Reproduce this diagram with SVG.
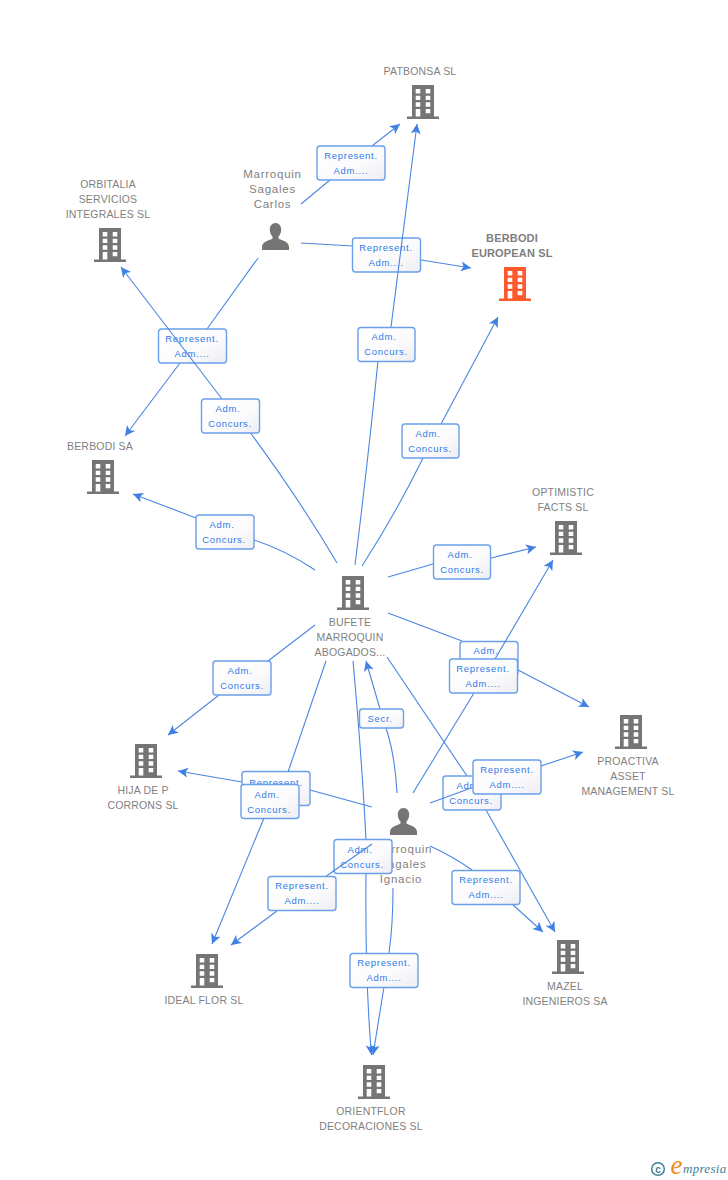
<svg xmlns="http://www.w3.org/2000/svg" xmlns:xlink="http://www.w3.org/1999/xlink" width="728" height="1180" viewBox="0 0 728 1180">
<style>
.t{font-family:"Liberation Sans",Arial,sans-serif;font-size:10.5px;fill:#7f7f7f;text-anchor:middle;letter-spacing:.18px}
.p{font-size:11.5px;letter-spacing:.75px}
.b{font-weight:bold;letter-spacing:.15px;font-size:11px}
.l{font-family:"Liberation Sans",Arial,sans-serif;font-size:9.5px;fill:#2f7be6;text-anchor:middle;letter-spacing:.7px}
.e{fill:none;stroke:#4a86e0;stroke-width:1.1;marker-end:url(#a)}
.n{fill:none;stroke:#4a86e0;stroke-width:1.1}
.r{fill:url(#g);stroke:#6a9fea;stroke-width:1.4}
</style>
<defs>
<linearGradient id="g" x1="0" y1="0" x2="1" y2="1"><stop offset="0" stop-color="#ffffff"/><stop offset=".6" stop-color="#fbfbfd"/><stop offset="1" stop-color="#eeeef3"/></linearGradient>
<marker id="a" markerUnits="userSpaceOnUse" markerWidth="14" markerHeight="14" refX="10" refY="5" orient="auto" overflow="visible"><path d="M0 0L10 5L0 10L2.5 5Z" fill="#3f80e2"/></marker>
<symbol id="bg" viewBox="0 0 32 34" width="32" height="34"><path fill="#757575" fill-rule="evenodd" d="M5 0H27V31.5H32V34H0V31.5H5ZM8.7 4V8.5H13.3V4ZM18.7 4V8.5H23.3V4ZM8.7 10.7V15H13.3V10.7ZM18.7 10.7V15H23.3V10.7ZM8.7 17.3V21.7H13.3V17.3ZM18.7 17.3V21.7H23.3V17.3ZM8.7 24V31.5H13.3V24ZM18.7 24V28.3H23.3V24Z"/></symbol>
<symbol id="bo" viewBox="0 0 32 34" width="32" height="34"><path fill="#ff5a2c" fill-rule="evenodd" d="M5 0H27V31.5H32V34H0V31.5H5ZM8.7 4V8.5H13.3V4ZM18.7 4V8.5H23.3V4ZM8.7 10.7V15H13.3V10.7ZM18.7 10.7V15H23.3V10.7ZM8.7 17.3V21.7H13.3V17.3ZM18.7 17.3V21.7H23.3V17.3ZM8.7 24V31.5H13.3V24ZM18.7 24V28.3H23.3V24Z"/></symbol>
<symbol id="pe" viewBox="0 0 27 27" width="27" height="27"><path fill="#757575" d="M13.5 0C17.2 0 19.2 3 19.2 6.5C19.2 9.5 18 12 16.5 13.5V15.5C19 17.5 27 18 27 24V27H0V24C0 18 8 17.5 10.500 15.500V13.500C9 12 7.800 9.500 7.800 6.500C7.800 3 9.800 0 13.500 0Z"/></symbol>
</defs>
<rect width="728" height="1180" fill="#ffffff"/>
<g id="nodes">
<g id="n-patbonsa"><use href="#bg" x="407" y="85"/><text class="t" x="420" y="75">PATBONSA SL</text></g>
<g id="n-european"><use href="#bo" x="499" y="267"/><text class="t b" x="512" y="242">BERBODI</text><text class="t b" x="512" y="257">EUROPEAN SL</text></g>
<g id="n-orbitalia"><use href="#bg" x="94" y="228"/><text class="t" x="108" y="188">ORBITALIA</text><text class="t" x="108" y="203">SERVICIOS</text><text class="t" x="108" y="218">INTEGRALES SL</text></g>
<g id="n-berbodisa"><use href="#bg" x="87" y="460"/><text class="t" x="100" y="450">BERBODI SA</text></g>
<g id="n-bufete"><use href="#bg" x="337" y="576"/><text class="t" x="350" y="626">BUFETE</text><text class="t" x="350" y="641">MARROQUIN</text><text class="t" x="350" y="656">ABOGADOS...</text></g>
<g id="n-optimistic"><use href="#bg" x="550" y="521"/><text class="t" x="563" y="496">OPTIMISTIC</text><text class="t" x="563" y="511">FACTS SL</text></g>
<g id="n-proactiva"><use href="#bg" x="615" y="715"/><text class="t" x="628" y="765">PROACTIVA</text><text class="t" x="628" y="780">ASSET</text><text class="t" x="628" y="795">MANAGEMENT SL</text></g>
<g id="n-hija"><use href="#bg" x="130" y="744"/><text class="t" x="143" y="794">HIJA DE P</text><text class="t" x="143" y="809">CORRONS SL</text></g>
<g id="n-idealflor"><use href="#bg" x="191" y="954"/><text class="t" x="204" y="1004">IDEAL FLOR SL</text></g>
<g id="n-mazel"><use href="#bg" x="552" y="940"/><text class="t" x="565" y="990">MAZEL</text><text class="t" x="565" y="1005">INGENIEROS SA</text></g>
<g id="n-orientflor"><use href="#bg" x="358" y="1065"/><text class="t" x="371" y="1115">ORIENTFLOR</text><text class="t" x="371" y="1130">DECORACIONES SL</text></g>
<g id="n-carlos"><use href="#pe" x="262" y="223"/><text class="t p" x="272.500" y="178">Marroquin</text><text class="t p" x="272.500" y="193">Sagales</text><text class="t p" x="272.500" y="208">Carlos</text></g>
<g id="n-ignacio"><use href="#pe" x="390" y="808"/><text class="t p" x="403" y="853">Marroquin</text><text class="t p" x="403" y="868">Sagales</text><text class="t p" x="401" y="883">Ignacio</text></g>
</g>
<g id="connectors">
<g><path class="n" d="M301 204L330 180"/><path class="e" d="M372 146L400 124"/><rect class="r" x="317" y="146" width="68" height="34" rx="3"/><text class="l" x="351" y="159">Represent.</text><text class="l" x="351" y="174">Adm....</text></g>
<g><path class="n" d="M301 243L353 246"/><path class="e" d="M421 260L471 268"/><rect class="r" x="352.500" y="238" width="68" height="34" rx="3"/><text class="l" x="386" y="251">Represent.</text><text class="l" x="386" y="266">Adm....</text></g>
<g><path class="n" d="M258 258L207 329"/><path class="e" d="M180 363L125 436"/><rect class="r" x="158.500" y="329" width="68" height="34" rx="3"/><text class="l" x="192" y="342">Represent.</text><text class="l" x="192" y="357">Adm....</text></g>
<g><path class="n" d="M372 807L310 790"/><path class="e" d="M242 782L178 771"/><rect class="r" x="242" y="771.500" width="68" height="34" rx="3"/><text class="l" x="276" y="786">Represent.</text><text class="l" x="276" y="800">Adm....</text></g>
<g><path class="n" d="M337 563Q300 500 249 431"/><path class="e" d="M222 399L121 267"/><rect class="r" x="201.500" y="399" width="58" height="34" rx="3"/><text class="l" x="228" y="412">Adm.</text><text class="l" x="230" y="427">Concurs.</text></g>
<g><path class="n" d="M315 570Q285 550 254 540"/><path class="e" d="M196 518L133 494"/><rect class="r" x="196" y="515" width="58" height="34" rx="3"/><text class="l" x="222" y="528">Adm.</text><text class="l" x="224" y="543">Concurs.</text></g>
<g><path class="n" d="M355 565Q368 460 378 361"/><path class="e" d="M391 327L417 124"/><rect class="r" x="358" y="327.500" width="57" height="34" rx="3"/><text class="l" x="384" y="340">Adm.</text><text class="l" x="386" y="355">Concurs.</text></g>
<g><path class="n" d="M362 566Q395 515 423 458"/><path class="e" d="M441 424L498 317"/><rect class="r" x="402" y="424" width="57" height="34" rx="3"/><text class="l" x="428" y="437">Adm.</text><text class="l" x="430" y="452">Concurs.</text></g>
<g><path class="n" d="M388 577L433 564"/><path class="e" d="M491 558L536 547"/><rect class="r" x="433.500" y="545" width="57" height="34" rx="3"/><text class="l" x="460" y="558">Adm.</text><text class="l" x="462" y="573">Concurs.</text></g>
<g><path class="n" d="M388 613L462 641"/><path class="e" d="M518 670L589 707"/><rect class="r" x="460" y="641.500" width="58" height="34" rx="3"/><text class="l" x="486" y="654">Adm.</text><text class="l" x="488" y="669">Concurs.</text></g>
<g><path class="n" d="M315 625L268 661"/><path class="e" d="M219 695L168 735"/><rect class="r" x="213" y="661" width="58" height="34" rx="3"/><text class="l" x="240" y="674">Adm.</text><text class="l" x="242" y="689">Concurs.</text></g>
<g><path class="n" d="M326 661L288 772"/><path class="e" d="M264 818L212 944"/><rect class="r" x="241" y="784.500" width="58" height="34" rx="3"/><text class="l" x="267" y="798">Adm.</text><text class="l" x="269" y="813">Concurs.</text></g>
<g><path class="n" d="M353 661Q362 760 366 840"/><path class="e" d="M366 873Q365 980 371.500 1055"/><rect class="r" x="334" y="839.500" width="58" height="34" rx="3"/><text class="l" x="360" y="853">Adm.</text><text class="l" x="362" y="868">Concurs.</text></g>
<g><path class="n" d="M387 657L467 776"/><path class="e" d="M486 810L555 932"/><rect class="r" x="443" y="776" width="58" height="34" rx="3"/><text class="l" x="469" y="789">Adm.</text><text class="l" x="471" y="804">Concurs.</text></g>
<g><path class="n" d="M397 793Q395 755 386 728"/><path class="e" d="M380 709L366 661"/><rect class="r" x="359.500" y="709" width="44" height="19" rx="3"/><text class="l" x="380" y="722">Secr.</text></g>
<g><path class="n" d="M413 793L474 693"/><path class="e" d="M495 659L553 560"/><rect class="r" x="449.500" y="659" width="68" height="34" rx="3"/><text class="l" x="483" y="672">Represent.</text><text class="l" x="483" y="687">Adm....</text></g>
<g><path class="n" d="M430 803L474 787"/><path class="e" d="M541 766L583 752"/><rect class="r" x="473" y="760" width="68" height="34" rx="3"/><text class="l" x="507" y="773">Represent.</text><text class="l" x="507" y="788">Adm....</text></g>
<g><path class="n" d="M372 844L325 877"/><path class="e" d="M277 911L231 945"/><rect class="r" x="268" y="876.500" width="68" height="34" rx="3"/><text class="l" x="302" y="889">Represent.</text><text class="l" x="302" y="904">Adm....</text></g>
<g><path class="n" d="M430 846Q452 856 472 870"/><path class="e" d="M512 904L543 932"/><rect class="r" x="452" y="870.500" width="68" height="34" rx="3"/><text class="l" x="486" y="883">Represent.</text><text class="l" x="486" y="898">Adm....</text></g>
<g><path class="n" d="M393 888Q393 925 389 953"/><path class="e" d="M384 987L373 1055"/><rect class="r" x="350" y="953.500" width="68" height="34" rx="3"/><text class="l" x="384" y="966">Represent.</text><text class="l" x="384" y="981">Adm....</text></g>
</g>
<g id="logo"><circle cx="658" cy="1169" r="6.300" fill="none" stroke="#3f7f96" stroke-width="1.500"/><text x="658" y="1172.500" font-family="Liberation Sans,sans-serif" font-size="10" font-weight="bold" fill="#3f7f96" text-anchor="middle">c</text><text x="670.500" y="1174" font-family="Liberation Serif,serif" font-style="italic" font-size="27" fill="#f08a1e">e</text><text x="683" y="1173" font-family="Liberation Serif,serif" font-style="italic" font-size="13" letter-spacing=".3" fill="#3f7f96">mpresia</text></g>
</svg>
